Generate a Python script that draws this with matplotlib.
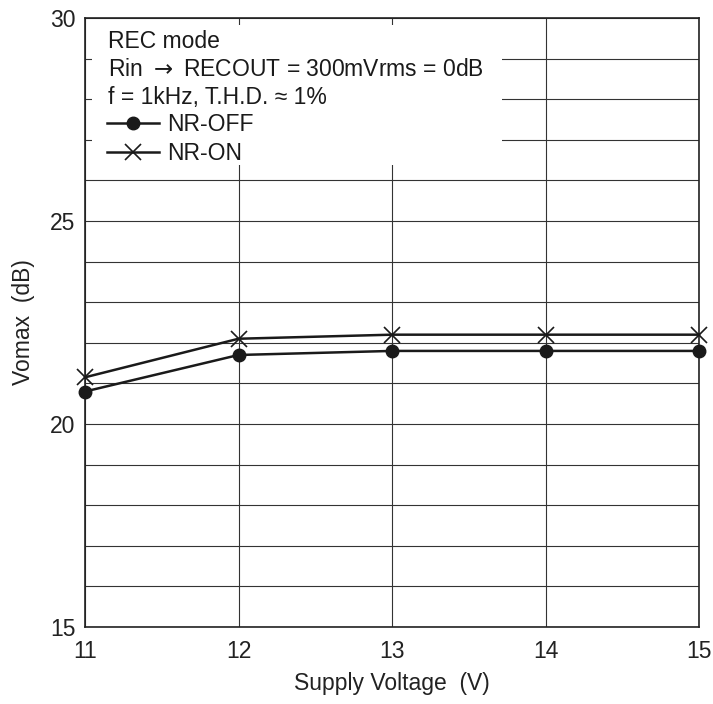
import matplotlib
matplotlib.use("Agg")
import matplotlib.pyplot as plt
from matplotlib.patches import Rectangle

plt.rcParams['font.family'] = ['Liberation Sans', 'DejaVu Sans']
plt.rcParams['mathtext.fontset'] = 'dejavusans'

voltage = [11, 12, 13, 14, 15]
nr_off = [20.8, 21.7, 21.8, 21.8, 21.8]
nr_on = [21.15, 22.1, 22.2, 22.2, 22.2]
x_ticks = [11, 12, 13, 14, 15]
y_ticks = list(range(15, 31))
y_labels = [str(v) if v % 5 == 0 else "" for v in y_ticks]
info_lines = ["REC mode", "Rin $\\rightarrow$ RECOUT = 300mVrms = 0dB", "f = 1kHz, T.H.D. \u2248 1%"]

FS = 16.5
fig = plt.figure(figsize=(7.13, 7.04), dpi=100)
ax = fig.add_axes([85/713, 77/704, 614/713, 609/704])
ax.set_xlim(11, 15)
ax.set_ylim(15, 30)
ax.set_xticks(x_ticks)
ax.set_yticks(y_ticks)
ax.set_yticklabels(y_labels)
ax.tick_params(length=0, labelsize=FS, colors='#222222', pad=7)
ax.tick_params(axis='x', pad=9)
ax.grid(True, color='#333333', linewidth=0.8)
ax.set_axisbelow(True)
for s in ax.spines.values():
    s.set_color('#222222')
    s.set_linewidth(1.2)

ax.add_patch(Rectangle((0.011, 0.759), 0.668, 0.229, transform=ax.transAxes,
                       facecolor='white', edgecolor='none', zorder=1))

ax.plot(voltage, nr_off, color='#1a1a1a', linewidth=1.8, marker='o', markersize=9,
        label='NR-OFF', zorder=3, clip_on=False)
ax.plot(voltage, nr_on, color='#1a1a1a', linewidth=1.8, marker='x', markersize=11,
        markeredgewidth=1.2, label='NR-ON', zorder=3, clip_on=False)

ys = [0.961, 0.915, 0.869]
for t, yv in zip(info_lines, ys):
    ax.text(0.037, yv, t, transform=ax.transAxes, fontsize=FS, color='#1a1a1a',
            va='center', ha='left', zorder=4)

leg = ax.legend(loc='upper left', bbox_to_anchor=(0.036, 0.844), frameon=False,
                fontsize=FS, handlelength=2.27, handletextpad=0.35, labelspacing=0.25,
                borderaxespad=0, borderpad=0)
for txt in leg.get_texts():
    txt.set_color('#1a1a1a')
leg.set_zorder(4)

ax.set_xlabel('Supply Voltage  (V)', fontsize=FS, color='#222222', va='center')
ax.xaxis.set_label_coords(0.5, -0.092)
ax.set_ylabel('Vomax  (dB)', fontsize=FS, color='#222222', va='center')
ax.yaxis.set_label_coords(-0.1, 0.5)

fig.savefig('out.png', dpi=100)
